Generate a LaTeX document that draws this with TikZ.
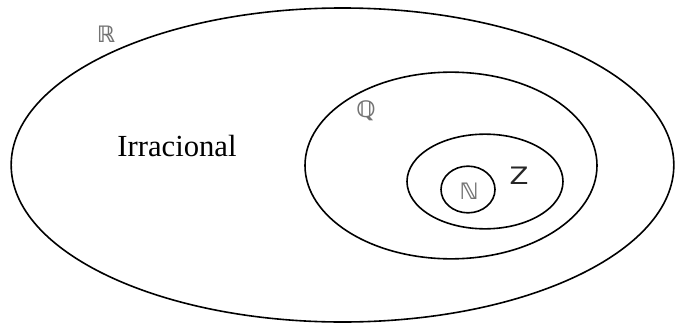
\documentclass[tikz,border=0pt]{standalone}
\usepackage{fontspec}
\setmainfont{Liberation Serif}
\newfontfamily\setsymfont{DejaVu Sans}
\usetikzlibrary{shapes.geometric}

\begin{document}
\begin{tikzpicture}[x=0.75pt, y=-0.75pt,
        setellipse/.style={ellipse, draw, line width=1.2pt, inner sep=0pt},
        setlabel/.style={font=\setsymfont\bfseries\fontsize{17}{17}\selectfont, text=black!55, inner sep=0pt},
    ]
    \useasboundingbox (0,0) rectangle (675,325);

    % Nested sets
    \node[setellipse, minimum width=497pt, minimum height=235.5pt] (reals) at (342.5,165) {};
    \node[setellipse, minimum width=219pt, minimum height=140pt]   (rats)  at (451,165.5) {};
    \node[setellipse, minimum width=117pt, minimum height=71pt]    (ints)  at (485,181.5) {};
    \node[setellipse, minimum width=40.5pt, minimum height=35pt]   (nats)  at (468,189.5) {};

    % Labels
    \node[setlabel] (realslbl) at (106,34)  {ℝ};
    \node[setlabel] (ratslbl)  at (366,111) {ℚ};
    \node[setlabel] (natslbl)  at (469,191) {ℕ};
    \node[setlabel, text=black!85, font=\setsymfont\fontsize{18}{18}\selectfont, xscale=1.15] (intslbl) at (519,176) {Z};
    \node[inner sep=0pt, font=\fontsize{23}{23}\selectfont] (irrlbl) at (177,146) {Irracional};
\end{tikzpicture}
\end{document}
